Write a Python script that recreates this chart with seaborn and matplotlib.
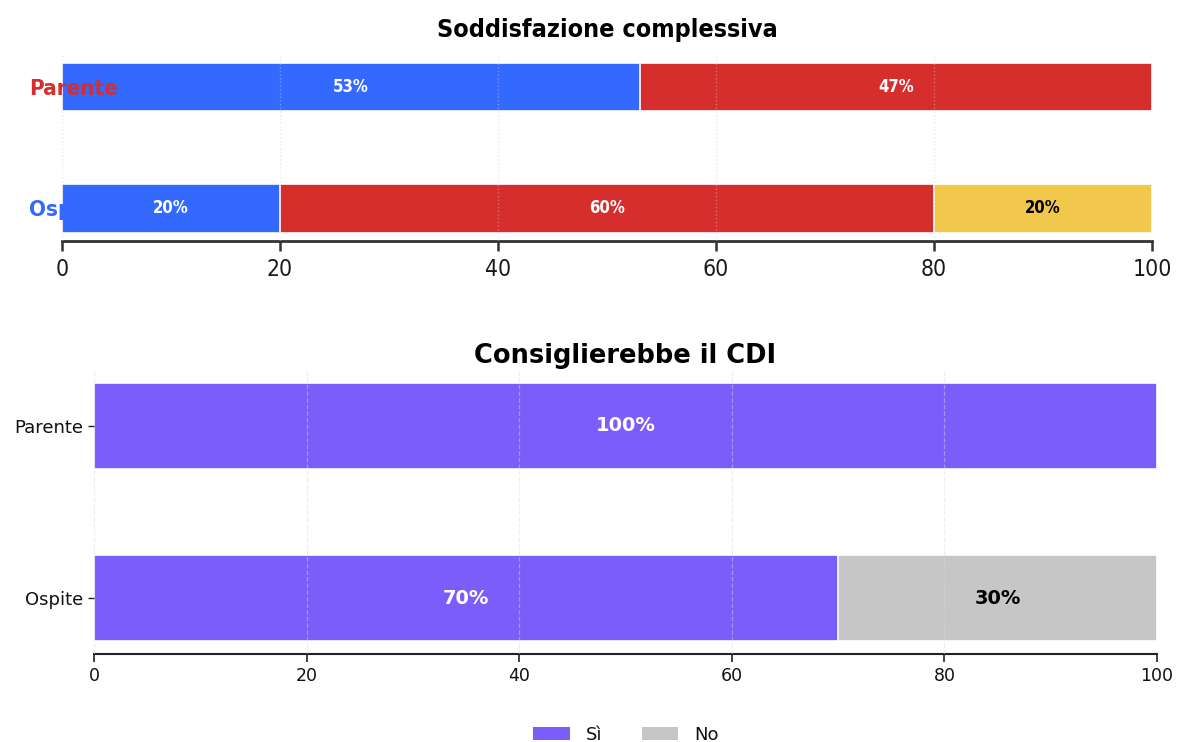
import numpy as np
import pandas as pd
import matplotlib
matplotlib.use('Agg')
import matplotlib.pyplot as plt
import seaborn as sns
from matplotlib import font_manager as fm
from matplotlib.patches import Patch

# ---------------- data ----------------
categories = ['Parente', 'Ospite']
# Soddisfazione complessiva: three segments, left to right
sodd_seg1 = [53, 20]
sodd_seg2 = [47, 60]
sodd_seg3 = [0, 20]
# Consiglierebbe il CDI
cons_si = [100, 70]
cons_no = [0, 30]
x_ticks = [0, 20, 40, 60, 80, 100]
title_top = 'Soddisfazione complessiva'
title_bottom = 'Consiglierebbe il CDI'
legend_labels = ['Sì', 'No']

# ---------------- styles ----------------
BLUE = '#3369ff'
RED = '#d62d2d'
YELLOW = '#f2c84c'
PURPLE = '#7b5efa'
GREY = '#c6c6c6'

sns.set_theme(style='ticks')
plt.rcParams['font.family'] = ['DejaVu Sans']
plt.rcParams['text.color'] = 'black'
plt.rcParams['axes.titlecolor'] = 'black'

has_cond = any(('condensed' in str(f.stretch).lower() or 'condensed' in f.fname.lower())
               and 'dejavu' in f.name.lower() for f in fm.fontManager.ttflist)
if has_cond:
    STRETCH = 'condensed'
    fs_title_top, fs_ylab_top, fs_bar_top, fs_xt_top = 18, 16, 12, 16.5
else:
    STRETCH = 'normal'
    fs_title_top, fs_ylab_top, fs_bar_top, fs_xt_top = 16.5, 14, 11, 15.5

fig = plt.figure(figsize=(11.77, 7.42), dpi=100)
ax1 = fig.add_axes([0.0527, 0.6752, 0.926, 0.252])
ax2 = fig.add_axes([0.0799, 0.1186, 0.9031, 0.3827])


def stacked(ax, series, colors, width, text_colors, fs, stretch='normal'):
    arr = np.array(series, dtype=float)
    cum = np.cumsum(arr, axis=0)
    for i in range(len(series) - 1, -1, -1):
        df = pd.DataFrame({'cat': categories, 'val': cum[i]})
        sns.barplot(data=df, x='val', y='cat', order=categories, orient='h',
                    color=colors[i], saturation=1, width=width,
                    edgecolor='white', linewidth=1.2, errorbar=None, ax=ax)
    for i in range(len(series)):
        for j in range(len(categories)):
            v = arr[i, j]
            if v <= 0:
                continue
            center = cum[i, j] - v / 2
            ax.text(center, j, f'{int(v)}%', ha='center', va='center',
                    color=text_colors[i], fontsize=fs, fontweight='bold',
                    fontstretch=stretch, zorder=4)


# ---------------- top panel ----------------
stacked(ax1, [sodd_seg1, sodd_seg2, sodd_seg3], [BLUE, RED, YELLOW], 0.4,
        ['white', 'white', 'black'], fs_bar_top, STRETCH)
ax1.set_xlim(0, 100)
ax1.set_ylim(1.27, -0.27)
ax1.set_xticks(x_ticks)
ax1.set_xlabel('')
ax1.set_ylabel('')
ax1.set_axisbelow(False)
ax1.grid(axis='x', linestyle=':', color='#cfcfcf', linewidth=1, alpha=0.45)
sns.despine(ax=ax1, left=True, top=True, right=True)
ax1.spines['bottom'].set_color('#333333')
ax1.spines['bottom'].set_linewidth(2)
ax1.tick_params(axis='x', length=7, width=1.8, color='#333333',
                labelsize=fs_xt_top, labelcolor='#1a1a1a', pad=5)
ax1.tick_params(axis='y', length=0, pad=24, labelsize=fs_ylab_top)
for lbl, col in zip(ax1.get_yticklabels(), [RED, BLUE]):
    lbl.set_color(col)
    lbl.set_fontweight('bold')
    lbl.set_fontstretch(STRETCH)
    lbl.set_horizontalalignment('left')
for lbl in ax1.get_xticklabels():
    lbl.set_fontstretch(STRETCH)
ax1.set_title(title_top, fontsize=fs_title_top, fontweight='bold',
              fontstretch=STRETCH, pad=12, color='black')

# ---------------- bottom panel ----------------
stacked(ax2, [cons_si, cons_no], [PURPLE, GREY], 0.5,
        ['white', 'black'], 14)
ax2.set_xlim(0, 100)
ax2.set_ylim(1.325, -0.325)
ax2.set_xticks(x_ticks)
ax2.set_xlabel('')
ax2.set_ylabel('')
ax2.set_axisbelow(False)
ax2.grid(axis='x', linestyle='--', color='#d8d8d8', linewidth=0.9, alpha=0.45)
sns.despine(ax=ax2, left=True, top=True, right=True)
ax2.spines['bottom'].set_color('#222222')
ax2.spines['bottom'].set_linewidth(1.5)
ax2.tick_params(axis='x', length=6, width=1.2, color='#222222',
                labelsize=12.5, labelcolor='#111111')
ax2.tick_params(axis='y', length=4.5, width=1, color='#222222',
                labelsize=13, labelcolor='#111111')
ax2.set_title(title_bottom, fontsize=18.5, fontweight='bold', pad=5, color='black')

handles = [Patch(facecolor=PURPLE, edgecolor='none'),
           Patch(facecolor=GREY, edgecolor='none')]
fig.legend(handles, legend_labels, loc='center', bbox_to_anchor=(0.532, 0.0094),
           ncol=2, frameon=False, fontsize=13, handlelength=2.0,
           handletextpad=0.9, columnspacing=2.2, labelcolor='#111111')

fig.savefig('out.png', dpi=100)
